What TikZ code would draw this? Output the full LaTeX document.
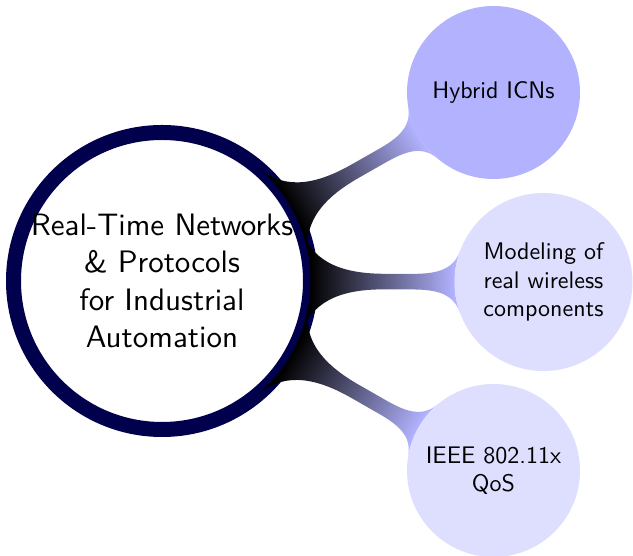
\documentclass[tikz,border=0pt]{standalone}
\usepackage{fontspec}
\newfontfamily\lmten{lmsans10-regular.otf}
\usetikzlibrary{mindmap}
\pgfdeclarelayer{rootlayer}
\pgfdeclarelayer{barlayer}
\pgfsetlayers{rootlayer,barlayer,main}
\definecolor{ringnavy}{RGB}{0,0,77}
\colorlet{hybcol}{blue!30}
\colorlet{lightcol}{blue!13}
\begin{document}
\begin{tikzpicture}[x=1pt,y=1pt,
  rootconcept/.style={circle, draw=ringnavy, line width=15pt, fill=white, outer sep=0pt, inner sep=0pt,
    minimum size=297pt, align=center, font=\lmten\fontsize{31}{37.3}\selectfont},
  subconcept/.style={circle, draw=none, outer sep=0pt, inner sep=0pt, align=center,
    font=\lmten\fontsize{24}{28.5}\selectfont},
  conbar/.style={circle connection bar switch color=from (black) to (hybcol)}
]
\useasboundingbox (0,0) rectangle (633,556);
\begin{pgfonlayer}{rootlayer}
\node[rootconcept] (root) at (162,275) {Real-Time Networks\\ \& Protocols\\ for Industrial\\ Automation};
\end{pgfonlayer}
\node[subconcept, fill=hybcol, minimum size=173pt] (hyb) at (493.5,463.5) {Hybrid ICNs};
\node[subconcept, fill=lightcol, minimum size=178pt] (mod) at (543.5,274) {Modeling of\\ real wireless\\ components};
\node[subconcept, fill=lightcol, minimum size=173pt] (ieee) at (493.5,85.5) {IEEE 802.11x\\ QoS};
\begin{pgfonlayer}{barlayer}
\path (root) to[conbar] (hyb);
\path (root) to[conbar] (mod);
\path (root) to[conbar] (ieee);
\end{pgfonlayer}
\end{tikzpicture}
\end{document}
